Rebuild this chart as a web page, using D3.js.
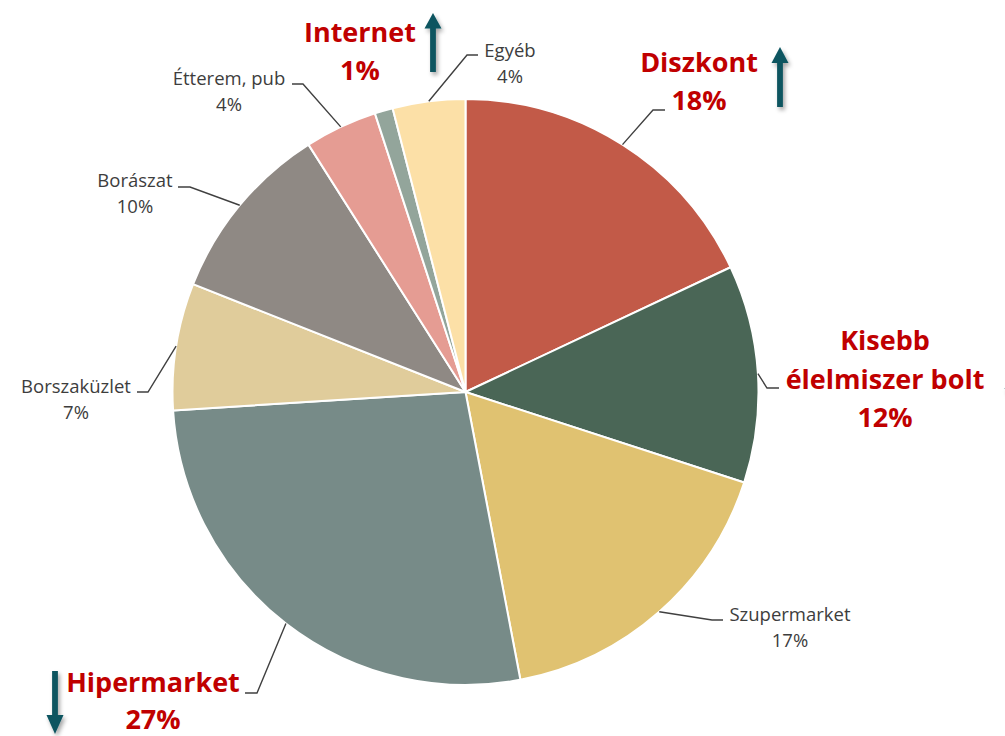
<!DOCTYPE html>
<html>
<head>
<meta charset="utf-8">
<script src="https://cdn.jsdelivr.net/npm/d3@7"></script>
<style>
  html, body { margin: 0; padding: 0; background: #ffffff; }
  svg { display: block; }
  .lbl { font-family: "Open Sans", "Noto Sans", sans-serif; }
</style>
</head>
<body>
<svg id="chart" width="1005" height="736"></svg>
<script>
// Wine purchase channels – share of purchases by channel (%)
const categories = ["Diszkont", "Kisebb élelmiszer bolt", "Szupermarket", "Hipermarket",
                    "Borszaküzlet", "Borászat", "Étterem, pub", "Internet", "Egyéb"];
const shares = [18, 12, 17, 27, 7, 10, 4, 1, 4];
const labelLines = [["Diszkont"], ["Kisebb", "élelmiszer bolt"], ["Szupermarket"], ["Hipermarket"],
                    ["Borszaküzlet"], ["Borászat"], ["Étterem, pub"], ["Internet"], ["Egyéb"]];
const highlighted = [true, true, false, true, false, false, false, true, false];
const trends = ["up", null, null, "down", null, null, null, "up", null];

const sliceColors = ["#c25a48", "#4a6656", "#e0c271", "#778b88", "#e0cc9b",
                     "#8f8984", "#e59c93", "#93a59b", "#fce0a7"];

// label placement: text centre x, first baseline y, line spacing, leader elbow and end
const labelLayout = [
  { x: 699, y: 72,  dy: 38, elbow: [653, 110], end: [665, 110] },
  { x: 885, y: 350, dy: 38.5, elbow: [767, 388], end: [779, 388] },
  { x: 790, y: 621, dy: 25.5, elbow: [712, 620], end: [723, 620] },
  { x: 153, y: 692, dy: 36.5, elbow: [257, 693], end: [245, 693] },
  { x: 76,  y: 393, dy: 25.5, elbow: [148, 392], end: [137, 392] },
  { x: 135, y: 187, dy: 26, elbow: [190, 187], end: [178, 187] },
  { x: 229, y: 85,  dy: 25.5, elbow: [303, 84], end: [292, 84] },
  { x: 360, y: 42,  dy: 38, elbow: null, end: null },
  { x: 510, y: 57,  dy: 26, elbow: [467, 55], end: [478, 55] }
];

// trend arrows: centre x, tip y, head base y, shaft end y
const arrowLayout = [
  { i: 0, x: 780, tip: 47,  base: 63,  tail: 107 },
  { i: 7, x: 433, tip: 13,  base: 28.5, tail: 72 },
  { i: 3, x: 55,  tip: 734, base: 715, tail: 671 }
];

const cx = 465.5, cy = 392, radius = 293;

const svg = d3.select("#chart");

const defs = svg.append("defs");
const shadow = defs.append("filter").attr("id", "arrowShadow")
  .attr("x", "-100%").attr("y", "-50%").attr("width", "300%").attr("height", "200%");
shadow.append("feDropShadow")
  .attr("dx", 2).attr("dy", 3).attr("stdDeviation", 2)
  .attr("flood-color", "#000").attr("flood-opacity", 0.35);

const pie = d3.pie().sort(null).value(d => d);
const arcs = pie(shares);
const arc = d3.arc().innerRadius(0).outerRadius(radius);

const g = svg.append("g").attr("transform", `translate(${cx},${cy})`);
g.selectAll("path.slice")
  .data(arcs)
  .join("path")
  .attr("class", "slice")
  .attr("d", arc)
  .attr("fill", (d, i) => sliceColors[i])
  .attr("stroke", "#ffffff")
  .attr("stroke-width", 2)
  .attr("stroke-linejoin", "round");

// leader lines from slice edge (mid angle) to the label
const leaders = svg.append("g");
arcs.forEach((d, i) => {
  const L = labelLayout[i];
  if (!L.elbow) return;
  const a = (d.startAngle + d.endAngle) / 2;
  const sx = cx + radius * Math.sin(a);
  const sy = cy - radius * Math.cos(a);
  leaders.append("polyline")
    .attr("points", [[sx, sy], L.elbow, L.end].map(p => p.join(",")).join(" "))
    .attr("fill", "none")
    .attr("stroke", "#404040")
    .attr("stroke-width", 1.4);
});

// data labels
const pct = d3.format(".0f");
const labels = svg.append("g");
arcs.forEach((d, i) => {
  const L = labelLayout[i];
  const lines = labelLines[i].concat([pct(shares[i]) + "%"]);
  const hi = highlighted[i];
  const t = labels.append("text")
    .attr("class", "lbl")
    .attr("text-anchor", "middle")
    .attr("fill", hi ? "#c00000" : "#3d3d3d")
    .attr("font-weight", hi ? 700 : 400)
    .attr("font-size", hi ? 27 : 18.5);
  lines.forEach((s, k) => {
    t.append("tspan").attr("x", L.x).attr("y", L.y + k * L.dy).text(s);
  });
});

// trend arrows
function arrowPath(a) {
  const hw = 8.5, sw = 2.9;
  return [
    [a.x, a.tip], [a.x + hw, a.base], [a.x + sw, a.base], [a.x + sw, a.tail],
    [a.x - sw, a.tail], [a.x - sw, a.base], [a.x - hw, a.base]
  ];
}
const arrows = svg.append("g");
arrowLayout.concat([{ i: -1, x: 1013, tip: 407, base: 388, tail: 345 }]).forEach(a => {
  arrows.append("path")
    .attr("d", d3.line()(arrowPath(a)) + "Z")
    .attr("fill", "#0d5561")
    .attr("filter", "url(#arrowShadow)");
});
</script>
</body>
</html>
